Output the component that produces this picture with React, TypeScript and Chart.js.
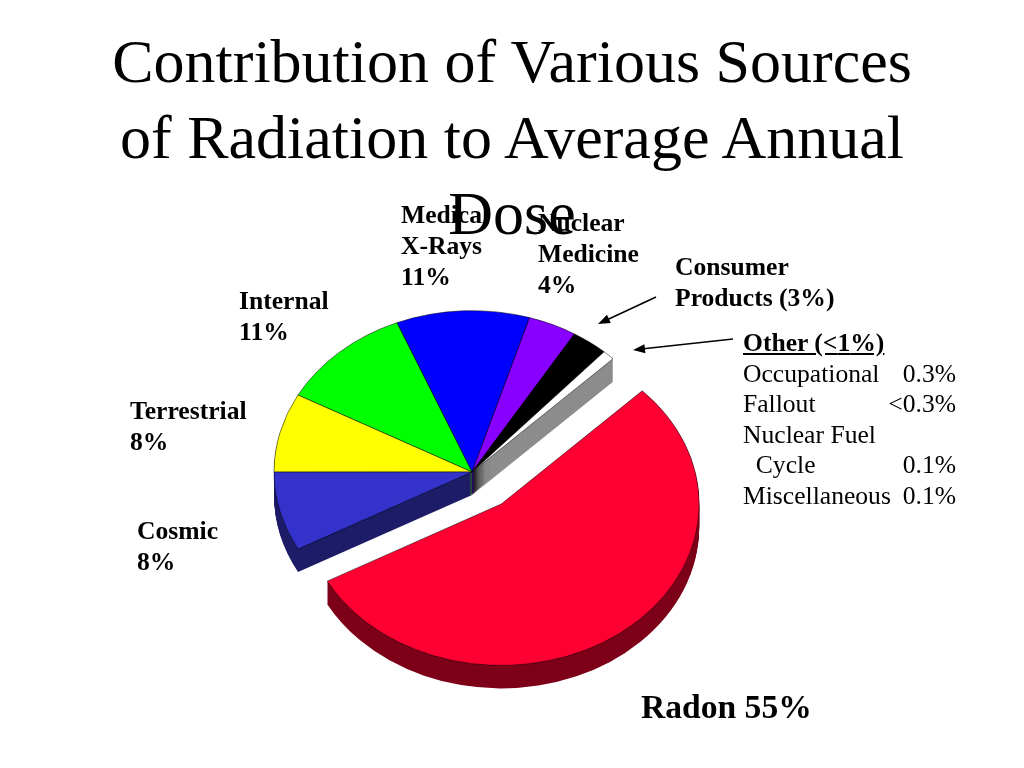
import { useEffect, useRef } from 'react';
import { Chart, registerables } from 'chart.js';

Chart.register(...registerables);

// slices, clockwise from the top of the pie
const sources = ['Medical X-Rays', 'Nuclear Medicine', 'Consumer Products', 'Other', 'Radon', 'Cosmic', 'Terrestrial', 'Internal'];
const percents = [11, 4, 3, 1, 55, 8, 8, 11];
const topColors = ['#0000ff', '#8800ff', '#000000', '#ffffff', '#ff0033', '#3333cc', '#ffff00', '#00ff00'];
const sideColors = ['#000080', '#440080', '#000000', '#8c8c8c', '#7d0019', '#1d1d68', '#808000', '#008000'];
const explode = [0, 0, 0, 0, 49, 0, 0, 0];

// breakdown of "Other"
const otherNames = ['Occupational', 'Fallout', 'Nuclear Fuel Cycle', 'Miscellaneous'];
const otherShares = ['0.3%', '<0.3%', '0.1%', '0.1%'];

const TILT = 0.815; // vertical squash of the pie
const DEPTH = 23; // thickness of the pie in px

const midAngle = (a: any) => (a.startAngle + a.endAngle) / 2;

const pie3d = {
  id: 'pie3d',
  beforeDatasetsDraw(chart: Chart) {
    const arcs: any[] = chart.getDatasetMeta(0).data as any[];
    if (!arcs.length) return;
    const ctx = chart.ctx;
    const cx = arcs[0].x;
    const cy = arcs[0].y;
    // back to front
    const order = arcs.map((_, i) => i).sort((a, b) => Math.sin(midAngle(arcs[a])) - Math.sin(midAngle(arcs[b])));
    ctx.save();
    ctx.translate(cx, cy);
    ctx.scale(1, TILT);
    ctx.translate(-cx, -cy);
    for (const i of order) {
      const a = arcs[i];
      const m = midAngle(a);
      const ex = Math.cos(m) * explode[i];
      const ey = Math.sin(m) * explode[i];
      ctx.fillStyle = sideColors[i];
      for (let d = DEPTH; d > 0; d--) {
        const y = a.y + ey + d / TILT;
        ctx.beginPath();
        ctx.moveTo(a.x + ex, y);
        ctx.arc(a.x + ex, y, a.outerRadius, a.startAngle, a.endAngle);
        ctx.closePath();
        ctx.fill();
      }
      ctx.save();
      ctx.translate(ex, ey);
      a.draw(ctx);
      ctx.restore();
    }
    ctx.restore();
    return false;
  },
};

// label arrows (annotation only)
const arrows = [
  { from: [656, 297], to: [598, 324] },
  { from: [733, 339], to: [633, 350] },
];

const arrowPlugin = {
  id: 'arrows',
  afterDraw(chart: Chart) {
    const ctx = chart.ctx;
    ctx.save();
    ctx.strokeStyle = '#000';
    ctx.fillStyle = '#000';
    ctx.lineWidth = 1.5;
    for (const { from, to } of arrows) {
      const ang = Math.atan2(to[1] - from[1], to[0] - from[0]);
      ctx.beginPath();
      ctx.moveTo(from[0], from[1]);
      ctx.lineTo(to[0] - Math.cos(ang) * 6, to[1] - Math.sin(ang) * 6);
      ctx.stroke();
      ctx.beginPath();
      ctx.moveTo(to[0], to[1]);
      ctx.lineTo(to[0] - Math.cos(ang) * 12 + Math.sin(ang) * 4.5, to[1] - Math.sin(ang) * 12 - Math.cos(ang) * 4.5);
      ctx.lineTo(to[0] - Math.cos(ang) * 12 - Math.sin(ang) * 4.5, to[1] - Math.sin(ang) * 12 + Math.cos(ang) * 4.5);
      ctx.closePath();
      ctx.fill();
    }
    ctx.restore();
  },
};

const serif = '"Liberation Serif", "Times New Roman", serif';

const labelSpots = [
  { i: 0, left: 401, top: 199, kind: 'stack' },
  { i: 1, left: 538, top: 207, kind: 'stack' },
  { i: 2, left: 675, top: 251, kind: 'paren' },
  { i: 7, left: 239, top: 285, kind: 'stack' },
  { i: 6, left: 130, top: 395, kind: 'stack' },
  { i: 5, left: 137, top: 515, kind: 'stack' },
];

function labelLines(i: number, kind: string) {
  const words = sources[i].split(' ');
  if (kind === 'paren') return [words[0], `${words.slice(1).join(' ')} (${percents[i]}%)`];
  return [...words, `${percents[i]}%`];
}

export default function App() {
  const canvasRef = useRef<HTMLCanvasElement>(null);
  const chartRef = useRef<Chart | null>(null);

  useEffect(() => {
    if (!canvasRef.current) return;
    chartRef.current?.destroy();
    chartRef.current = new Chart(canvasRef.current, {
      type: 'pie',
      data: {
        labels: sources,
        datasets: [{
          data: percents,
          backgroundColor: topColors,
          borderColor: 'rgba(0,0,0,0.55)',
          borderWidth: 1,
          radius: 198,
        } as any],
      },
      options: {
        responsive: false,
        animation: false,
        events: [],
        rotation: -22.3,
        layout: { padding: { left: 0, right: 80, top: 176, bottom: 0 } },
        plugins: { legend: { display: false }, tooltip: { enabled: false } },
      },
      plugins: [pie3d as any, arrowPlugin as any],
    });
    return () => { chartRef.current?.destroy(); chartRef.current = null; };
  }, []);

  const radonIdx = sources.indexOf('Radon');
  const otherIdx = sources.indexOf('Other');
  const rowTop = 328;
  const rowH = 30.5;
  const rows: { name: string; share: string }[] = [];
  otherNames.forEach((n, k) => {
    if (n === 'Nuclear Fuel Cycle') {
      rows.push({ name: 'Nuclear Fuel', share: '' });
      rows.push({ name: '\u00a0\u00a0Cycle', share: otherShares[k] });
    } else rows.push({ name: n, share: otherShares[k] });
  });

  return (
    <div style={{ position: 'absolute', left: 0, top: 0, width: 1024, height: 768, background: '#fff', fontFamily: serif, color: '#000', overflow: 'hidden' }}>
      <canvas ref={canvasRef} width={1024} height={768} style={{ position: 'absolute', left: 0, top: 0, width: 1024, height: 768 }} />
      <div style={{ position: 'absolute', left: 0, top: 23, width: 1024, textAlign: 'center', fontSize: 62, lineHeight: '76px' }}>
        Contribution of Various Sources<br />of Radiation to Average Annual<br />Dose
      </div>
      {labelSpots.map((s) => (
        <div key={s.i} style={{ position: 'absolute', left: s.left, top: s.top, fontSize: 25.6, lineHeight: '31px', fontWeight: 'bold', whiteSpace: 'nowrap' }}>
          {labelLines(s.i, s.kind).map((l, k) => <div key={k}>{l}</div>)}
        </div>
      ))}
      <div style={{ position: 'absolute', left: 641, top: 687, fontSize: 33.6, lineHeight: '40px', fontWeight: 'bold', whiteSpace: 'nowrap' }}>
        {sources[radonIdx]} {percents[radonIdx]}%
      </div>
      <div style={{ position: 'absolute', left: 743, top: rowTop, width: 213, fontSize: 25.6, lineHeight: `${rowH}px`, whiteSpace: 'pre' }}>
        <div style={{ fontWeight: 'bold', textDecoration: 'underline' }}>{sources[otherIdx]} (&lt;{percents[otherIdx]}%)</div>
        {rows.map((r, k) => (
          <div key={k} style={{ display: 'flex', justifyContent: 'space-between' }}>
            <span>{r.name}</span><span>{r.share}</span>
          </div>
        ))}
      </div>
    </div>
  );
}
